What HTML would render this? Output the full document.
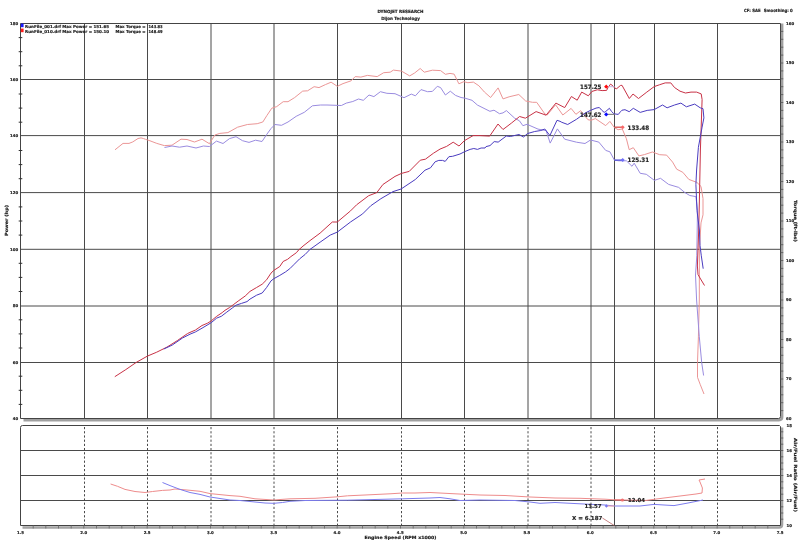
<!DOCTYPE html><html><head><meta charset="utf-8"><style>html,body{margin:0;padding:0;background:#fff;width:800px;height:543px;overflow:hidden}svg{display:block}</style></head><body>
<svg width="800" height="543" viewBox="0 0 800 543" style="font-family:'DejaVu Sans','Liberation Sans',sans-serif;font-weight:bold">
<rect width="800" height="543" fill="#fff"/>
<text x="400.5" y="13.1" font-size="4.3" text-anchor="middle" fill="#222" stroke="#222" stroke-width="0.18" textLength="46" lengthAdjust="spacingAndGlyphs" >DYNOJET RESEARCH</text>
<text x="400.5" y="20.1" font-size="4.3" text-anchor="middle" fill="#222" stroke="#222" stroke-width="0.18" textLength="38.5" lengthAdjust="spacingAndGlyphs" >Dijon Technology</text>
<text x="744" y="12.0" font-size="4.3" text-anchor="start" fill="#222" stroke="#222" stroke-width="0.18" textLength="16.6" lengthAdjust="spacingAndGlyphs" >CF: SAE</text>
<text x="763.7" y="12.0" font-size="4.3" text-anchor="start" fill="#222" stroke="#222" stroke-width="0.18" textLength="29.1" lengthAdjust="spacingAndGlyphs" >Smoothing: 0</text>
<line x1="20.5" y1="79.5" x2="780.5" y2="79.5" stroke="#4a4a4a" stroke-width="1"/><line x1="20.5" y1="135.6" x2="780.5" y2="135.6" stroke="#4a4a4a" stroke-width="1"/><line x1="20.5" y1="192.6" x2="780.5" y2="192.6" stroke="#4a4a4a" stroke-width="1"/><line x1="20.5" y1="249.3" x2="780.5" y2="249.3" stroke="#4a4a4a" stroke-width="1"/><line x1="20.5" y1="306.0" x2="780.5" y2="306.0" stroke="#4a4a4a" stroke-width="1"/><line x1="20.5" y1="362.5" x2="780.5" y2="362.5" stroke="#4a4a4a" stroke-width="1"/><line x1="84.5" y1="23.5" x2="84.5" y2="418.5" stroke="#4a4a4a" stroke-width="1"/><line x1="147.5" y1="23.5" x2="147.5" y2="418.5" stroke="#4a4a4a" stroke-width="1"/><line x1="211.0" y1="23.5" x2="211.0" y2="418.5" stroke="#4a4a4a" stroke-width="1"/><line x1="274.0" y1="23.5" x2="274.0" y2="418.5" stroke="#4a4a4a" stroke-width="1"/><line x1="337.5" y1="23.5" x2="337.5" y2="418.5" stroke="#4a4a4a" stroke-width="1"/><line x1="401.5" y1="23.5" x2="401.5" y2="418.5" stroke="#4a4a4a" stroke-width="1"/><line x1="464.5" y1="23.5" x2="464.5" y2="418.5" stroke="#4a4a4a" stroke-width="1"/><line x1="528.0" y1="23.5" x2="528.0" y2="418.5" stroke="#4a4a4a" stroke-width="1"/><line x1="591.0" y1="23.5" x2="591.0" y2="418.5" stroke="#4a4a4a" stroke-width="1"/><line x1="654.5" y1="23.5" x2="654.5" y2="418.5" stroke="#4a4a4a" stroke-width="1"/><line x1="717.5" y1="23.5" x2="717.5" y2="418.5" stroke="#4a4a4a" stroke-width="1"/><line x1="614.5" y1="23.5" x2="614.5" y2="418.5" stroke="#4a4a4a" stroke-width="1"/>
<path d="M782.1,23.5 L782.1,417.0 Q782.1,420.1 779.0,420.1 L23.5,420.1" fill="none" stroke="#a0a0a0" stroke-width="2.6"/>
<path d="M20.5,23.5 L780.5,23.5 L780.5,416.5 Q780.5,418.5 778.5,418.5 L20.5,418.5 L20.5,23.5" fill="none" stroke="#444" stroke-width="1"/>
<path d="M18.7,37.6h3.6M18.7,51.7h3.6M18.7,65.8h3.6M18.7,94.0h3.6M18.7,108.1h3.6M18.7,122.2h3.6M18.7,150.5h3.6M18.7,164.6h3.6M18.7,178.7h3.6M18.7,206.9h3.6M18.7,221.0h3.6M18.7,235.1h3.6M18.7,263.3h3.6M18.7,277.4h3.6M18.7,291.5h3.6M18.7,319.8h3.6M18.7,333.9h3.6M18.7,348.0h3.6M18.7,376.2h3.6M18.7,390.3h3.6M18.7,404.4h3.6" stroke="#333" stroke-width="1"/>
<path d="M780.5,31.4h2.8M780.5,39.3h2.8M780.5,47.2h2.8M780.5,55.1h2.8M780.5,63.0h2.8M780.5,70.9h2.8M780.5,78.8h2.8M780.5,86.7h2.8M780.5,94.6h2.8M780.5,102.5h2.8M780.5,110.4h2.8M780.5,118.3h2.8M780.5,126.2h2.8M780.5,134.1h2.8M780.5,142.0h2.8M780.5,149.9h2.8M780.5,157.8h2.8M780.5,165.7h2.8M780.5,173.6h2.8M780.5,181.5h2.8M780.5,189.4h2.8M780.5,197.3h2.8M780.5,205.2h2.8M780.5,213.1h2.8M780.5,221.0h2.8M780.5,228.9h2.8M780.5,236.8h2.8M780.5,244.7h2.8M780.5,252.6h2.8M780.5,260.5h2.8M780.5,268.4h2.8M780.5,276.3h2.8M780.5,284.2h2.8M780.5,292.1h2.8M780.5,300.0h2.8M780.5,307.9h2.8M780.5,315.8h2.8M780.5,323.7h2.8M780.5,331.6h2.8M780.5,339.5h2.8M780.5,347.4h2.8M780.5,355.3h2.8M780.5,363.2h2.8M780.5,371.1h2.8M780.5,379.0h2.8M780.5,386.9h2.8M780.5,394.8h2.8M780.5,402.7h2.8M780.5,410.6h2.8" stroke="#555" stroke-width="0.8"/>
<polyline points="115.0,149.8 123.0,143.4 129.0,143.4 132.8,141.9 138.0,138.5 141.0,137.9 143.3,138.5 145.5,139.3 150.0,140.8 156.8,143.4 164.3,145.6 172.0,145.2 181.0,139.2 187.0,139.5 194.5,142.0 202.0,139.2 209.4,143.7 214.9,135.0 219.8,133.4 227.9,132.6 237.6,127.2 247.4,124.5 257.2,123.7 262.8,122.0 266.9,115.5 271.8,108.2 276.7,106.6 283.2,101.7 288.0,101.7 294.6,97.6 302.7,91.1 307.6,90.8 314.1,86.7 319.0,87.6 325.4,84.6 331.1,82.2 337.3,86.3 343.0,83.6 351.1,80.8 355.2,76.6 360.9,77.1 367.4,75.4 377.2,76.6 383.7,72.7 390.2,72.2 393.4,70.1 401.5,71.1 409.7,75.9 414.6,73.0 420.2,68.5 424.3,72.2 432.4,70.2 440.6,70.6 445.4,74.3 450.0,73.4 454.1,74.1 458.9,83.8 463.8,81.7 467.9,82.7 473.4,82.1 478.9,85.8 484.4,92.0 490.6,97.5 498.1,87.9 503.0,98.9 509.1,96.8 518.8,94.5 525.7,101.0 532.5,102.3 536.7,102.3 544.9,114.0 547.2,115.0 555.6,104.8 562.8,115.0 571.1,108.4 575.9,114.3 580.7,110.7 587.9,119.7 591.0,120.3 595.4,118.6 605.7,125.6 609.9,121.4 614.4,127.6 618.1,129.7 622.3,129.0 626.4,138.7 629.2,149.7 633.3,147.7 638.9,155.9 644.4,154.6 652.4,152.0 659.7,154.7 666.6,155.1 672.6,162.1 676.7,169.2 682.8,172.3 688.8,179.4 696.9,182.4 701.0,186.4 703.0,198.6 703.0,214.8 701.0,222.9 699.4,249.4 699.3,300.0 698.4,336.8 697.5,362.6 697.5,377.3 700.3,384.7 704.0,394.0" fill="none" stroke="#eb9696" stroke-width="1.0" stroke-linejoin="round" />
<polyline points="164.5,147.5 172.0,146.0 179.5,147.2 187.0,146.0 196.0,148.0 203.4,146.0 209.4,146.5 216.5,141.1 223.0,143.5 229.5,138.6 236.0,136.7 242.5,140.7 249.0,142.4 255.5,140.2 262.0,141.5 266.9,134.2 271.0,128.5 275.0,124.5 281.5,125.3 288.0,122.0 296.2,116.3 304.3,112.3 312.4,105.8 320.6,105.0 327.0,105.0 341.4,105.5 346.3,103.1 352.8,101.5 358.5,99.0 363.3,100.3 369.0,95.0 373.9,96.6 380.4,91.7 386.9,93.3 395.0,93.7 404.0,97.7 411.3,94.1 415.4,95.8 421.0,89.6 427.6,91.7 432.4,91.4 437.3,86.3 440.6,87.6 445.4,95.0 450.3,91.2 455.5,95.4 461.0,97.5 465.1,98.2 472.0,100.3 477.5,105.1 489.9,111.3 494.0,110.2 499.5,113.7 503.0,112.9 506.4,110.6 514.6,118.1 519.5,120.9 522.9,125.7 527.0,124.3 538.0,129.1 546.1,130.6 550.2,143.1 557.4,128.9 564.7,139.2 576.5,142.2 585.0,143.5 590.5,140.0 598.8,142.1 605.7,150.4 609.9,151.8 614.4,160.1 618.8,160.8 626.4,160.8 632.0,166.3 634.2,163.2 640.2,173.3 646.3,174.3 654.4,180.4 660.5,178.3 668.6,184.4 678.7,187.4 684.8,192.5 689.8,195.5 695.9,196.6 697.5,210.0 696.8,255.8 695.5,275.0 696.6,300.0 699.3,336.8 701.7,362.6 703.6,375.5" fill="none" stroke="#9a8ce0" stroke-width="1.0" stroke-linejoin="round" />
<polyline points="114.8,376.7 125.8,369.6 136.1,362.5 147.4,356.1 156.7,352.2 167.0,347.1 177.3,340.6 187.6,333.5 190.0,332.4 195.5,330.0 202.0,325.5 207.5,323.2 211.2,320.9 216.7,316.3 222.2,312.6 225.0,310.3 229.6,307.5 233.2,304.8 238.8,300.6 245.2,296.0 250.0,291.4 256.6,287.5 262.2,284.2 266.6,279.8 271.0,273.1 273.8,270.4 279.8,266.5 283.1,261.5 287.6,259.3 290.9,256.6 296.4,252.7 298.6,250.0 303.0,246.1 310.0,240.6 320.1,233.1 332.3,222.0 337.3,222.0 350.5,210.9 356.6,204.8 368.7,195.7 376.8,192.6 382.9,184.5 395.0,176.4 401.5,173.4 409.2,171.4 420.3,160.2 425.4,159.2 433.5,153.2 440.0,149.1 446.6,146.4 453.2,142.2 459.0,146.0 464.5,140.6 473.1,135.6 479.8,135.6 489.7,136.1 498.0,124.0 503.0,129.5 511.3,123.2 519.6,116.5 525.4,118.2 536.1,111.6 546.1,115.2 555.9,103.1 564.7,107.6 571.4,96.5 577.2,100.2 581.7,92.1 588.3,95.8 592.0,91.4 597.3,89.8 602.1,90.6 606.6,90.4 608.2,87.3 610.6,84.1 613.1,86.1 614.7,88.1 616.7,88.7 620.4,85.5 622.0,85.3 629.3,98.5 633.0,94.0 638.5,98.5 646.8,92.1 654.2,86.6 659.7,84.7 665.2,82.9 670.8,82.9 674.5,87.5 680.0,91.2 685.5,93.0 691.0,92.1 696.6,92.1 701.2,93.9 702.1,99.5 700.4,150.0 699.4,200.0 698.7,230.0 698.0,249.4 697.4,266.0 698.0,274.5 700.6,279.0 704.5,285.5" fill="none" stroke="#c83246" stroke-width="1.0" stroke-linejoin="round" />
<polyline points="163.8,349.0 172.2,345.1 182.5,338.0 190.0,334.2 195.5,331.9 202.0,328.2 211.2,322.7 216.7,318.1 221.3,316.3 226.8,312.1 232.3,308.0 236.0,305.2 241.5,303.4 247.0,301.6 250.0,299.1 256.6,295.2 262.2,293.0 266.6,287.5 271.0,280.9 273.8,278.7 279.8,275.4 285.4,272.0 289.8,268.7 294.2,264.3 299.7,258.8 305.2,254.4 310.0,249.4 320.1,242.2 330.2,235.1 337.3,232.1 350.5,222.0 362.6,213.9 370.7,205.8 380.9,198.7 393.0,191.6 401.1,189.0 415.3,179.5 425.0,170.2 430.5,167.8 435.1,161.8 438.8,160.4 442.5,160.4 445.2,161.4 448.9,156.7 452.6,156.3 460.0,154.0 464.6,151.7 470.1,149.4 473.8,148.5 477.5,149.4 481.1,148.0 485.0,148.0 486.0,146.6 490.0,145.6 494.2,141.6 498.2,142.1 506.3,136.0 510.4,136.5 514.5,135.5 519.0,134.5 523.5,137.0 527.6,133.5 534.7,131.5 540.8,130.5 544.8,129.0 549.9,135.5 557.0,120.3 560.0,121.3 561.8,122.3 567.7,124.5 576.5,119.3 585.0,113.1 590.5,110.4 596.0,108.1 599.3,107.5 601.7,110.2 604.2,112.4 605.8,111.4 609.4,108.3 611.5,111.4 613.9,113.8 618.3,114.4 620.4,111.8 622.0,110.2 625.0,109.7 629.2,111.7 633.3,108.3 640.2,112.4 647.2,110.4 654.2,109.6 662.5,105.0 667.1,107.8 674.5,105.0 680.9,103.1 686.4,106.8 694.7,104.1 700.2,107.8 703.0,108.7 703.9,117.9 702.1,127.1 698.4,147.3 696.6,170.0 695.9,184.4 697.0,210.7 699.4,230.0 700.0,245.5 701.3,255.8 703.2,268.7" fill="none" stroke="#4a3cc0" stroke-width="1.0" stroke-linejoin="round" />
<rect x="20.8" y="23.6" width="2.8" height="3.6" fill="#1a1aff"/>
<rect x="20.8" y="28.6" width="2.8" height="3.6" fill="#ff1a1a"/>
<text x="25.1" y="28.2" font-size="4.1" text-anchor="start" fill="#222" stroke="#222" stroke-width="0.18" textLength="84" lengthAdjust="spacingAndGlyphs" >RunFile_001.drf Max Power = 151.65</text>
<text x="115.6" y="28.2" font-size="4.1" text-anchor="start" fill="#222" stroke="#222" stroke-width="0.18" textLength="30" lengthAdjust="spacingAndGlyphs" >Max Torque =</text>
<text x="148.6" y="28.2" font-size="4.1" text-anchor="start" fill="#222" stroke="#222" stroke-width="0.18" textLength="14" lengthAdjust="spacingAndGlyphs" >143.83</text>
<text x="25.1" y="33.2" font-size="4.1" text-anchor="start" fill="#222" stroke="#222" stroke-width="0.18" textLength="84" lengthAdjust="spacingAndGlyphs" >RunFile_010.drf Max Power = 150.10</text>
<text x="115.6" y="33.2" font-size="4.1" text-anchor="start" fill="#222" stroke="#222" stroke-width="0.18" textLength="30" lengthAdjust="spacingAndGlyphs" >Max Torque =</text>
<text x="148.6" y="33.2" font-size="4.1" text-anchor="start" fill="#222" stroke="#222" stroke-width="0.18" textLength="14" lengthAdjust="spacingAndGlyphs" >148.49</text>
<line x1="606.2" y1="86.7" x2="614.5" y2="86.7" stroke="#c8b4e0" stroke-width="1"/>
<line x1="606.2" y1="114.4" x2="614.5" y2="114.4" stroke="#8a8a8a" stroke-width="1.2"/>
<line x1="614.5" y1="127.2" x2="622.5" y2="127.2" stroke="#d85050" stroke-width="1.3"/>
<line x1="614.5" y1="160.1" x2="622.5" y2="160.1" stroke="#5050d8" stroke-width="1.3"/>
<path d="M606.2,84.6 l2.1,2.1 l-2.1,2.1 l-2.1,-2.1z" fill="#ff0a0a"/>
<path d="M606.2,112.3 l2.1,2.1 l-2.1,2.1 l-2.1,-2.1z" fill="#0a0aff"/>
<path d="M622.7,125.2 l2,2 l-2,2 l-2,-2z" fill="#f86868"/>
<path d="M622.7,158.1 l2,2 l-2,2 l-2,-2z" fill="#7070f8"/>
<text x="601.5" y="88.9" font-size="6.0" text-anchor="end" fill="#222" stroke="#222" stroke-width="0.18" textLength="21.5" lengthAdjust="spacingAndGlyphs" >157.25</text>
<text x="601.5" y="116.6" font-size="6.0" text-anchor="end" fill="#222" stroke="#222" stroke-width="0.18" textLength="21.5" lengthAdjust="spacingAndGlyphs" >147.62</text>
<text x="627.5" y="129.5" font-size="6.0" text-anchor="start" fill="#222" stroke="#222" stroke-width="0.18" textLength="21.7" lengthAdjust="spacingAndGlyphs" >133.48</text>
<text x="627.5" y="162.3" font-size="6.0" text-anchor="start" fill="#222" stroke="#222" stroke-width="0.18" textLength="21.7" lengthAdjust="spacingAndGlyphs" >125.31</text>
<text x="18.2" y="24.9" font-size="3.9" text-anchor="end" fill="#222" stroke="#222" stroke-width="0.18" >180</text>
<text x="18.2" y="80.9" font-size="3.9" text-anchor="end" fill="#222" stroke="#222" stroke-width="0.18" >160</text>
<text x="18.2" y="137.0" font-size="3.9" text-anchor="end" fill="#222" stroke="#222" stroke-width="0.18" >140</text>
<text x="18.2" y="194.0" font-size="3.9" text-anchor="end" fill="#222" stroke="#222" stroke-width="0.18" >120</text>
<text x="18.2" y="250.70000000000002" font-size="3.9" text-anchor="end" fill="#222" stroke="#222" stroke-width="0.18" >100</text>
<text x="18.2" y="307.4" font-size="3.9" text-anchor="end" fill="#222" stroke="#222" stroke-width="0.18" >80</text>
<text x="18.2" y="363.9" font-size="3.9" text-anchor="end" fill="#222" stroke="#222" stroke-width="0.18" >60</text>
<text x="18.2" y="419.9" font-size="3.9" text-anchor="end" fill="#222" stroke="#222" stroke-width="0.18" >40</text>
<text x="786" y="24.9" font-size="3.9" text-anchor="start" fill="#222" stroke="#222" stroke-width="0.18" >160</text>
<text x="786" y="64.4" font-size="3.9" text-anchor="start" fill="#222" stroke="#222" stroke-width="0.18" >150</text>
<text x="786" y="103.9" font-size="3.9" text-anchor="start" fill="#222" stroke="#222" stroke-width="0.18" >140</text>
<text x="786" y="143.4" font-size="3.9" text-anchor="start" fill="#222" stroke="#222" stroke-width="0.18" >130</text>
<text x="786" y="182.9" font-size="3.9" text-anchor="start" fill="#222" stroke="#222" stroke-width="0.18" >120</text>
<text x="786" y="222.4" font-size="3.9" text-anchor="start" fill="#222" stroke="#222" stroke-width="0.18" >110</text>
<text x="786" y="261.9" font-size="3.9" text-anchor="start" fill="#222" stroke="#222" stroke-width="0.18" >100</text>
<text x="786" y="301.4" font-size="3.9" text-anchor="start" fill="#222" stroke="#222" stroke-width="0.18" >90</text>
<text x="786" y="340.9" font-size="3.9" text-anchor="start" fill="#222" stroke="#222" stroke-width="0.18" >80</text>
<text x="786" y="380.4" font-size="3.9" text-anchor="start" fill="#222" stroke="#222" stroke-width="0.18" >70</text>
<text x="786" y="419.9" font-size="3.9" text-anchor="start" fill="#222" stroke="#222" stroke-width="0.18" >60</text>
<text x="0" y="0" font-size="4.3" text-anchor="middle" fill="#222" stroke="#222" stroke-width="0.18" transform="translate(7.6,220.5) rotate(-90)" textLength="31" lengthAdjust="spacingAndGlyphs">Power (hp)</text>
<text x="0" y="0" font-size="4.3" text-anchor="middle" fill="#222" stroke="#222" stroke-width="0.18" transform="translate(794.3,221) rotate(90)" textLength="42" lengthAdjust="spacingAndGlyphs">Torque (ft-lbs)</text>
<line x1="20.5" y1="450.5" x2="780.5" y2="450.5" stroke="#4a4a4a" stroke-width="1"/><line x1="20.5" y1="475.5" x2="780.5" y2="475.5" stroke="#4a4a4a" stroke-width="1"/><line x1="20.5" y1="500.5" x2="780.5" y2="500.5" stroke="#4a4a4a" stroke-width="1"/><line x1="84.5" y1="427.0" x2="84.5" y2="525.5" stroke="#4a4a4a" stroke-width="1" stroke-dasharray="2.2,2"/><line x1="147.5" y1="427.0" x2="147.5" y2="525.5" stroke="#4a4a4a" stroke-width="1" stroke-dasharray="2.2,2"/><line x1="211.0" y1="427.0" x2="211.0" y2="525.5" stroke="#4a4a4a" stroke-width="1" stroke-dasharray="2.2,2"/><line x1="274.0" y1="427.0" x2="274.0" y2="525.5" stroke="#4a4a4a" stroke-width="1" stroke-dasharray="2.2,2"/><line x1="337.5" y1="427.0" x2="337.5" y2="525.5" stroke="#4a4a4a" stroke-width="1" stroke-dasharray="2.2,2"/><line x1="401.5" y1="427.0" x2="401.5" y2="525.5" stroke="#4a4a4a" stroke-width="1" stroke-dasharray="2.2,2"/><line x1="464.5" y1="427.0" x2="464.5" y2="525.5" stroke="#4a4a4a" stroke-width="1" stroke-dasharray="2.2,2"/><line x1="528.0" y1="427.0" x2="528.0" y2="525.5" stroke="#4a4a4a" stroke-width="1" stroke-dasharray="2.2,2"/><line x1="591.0" y1="427.0" x2="591.0" y2="525.5" stroke="#4a4a4a" stroke-width="1" stroke-dasharray="2.2,2"/><line x1="654.5" y1="427.0" x2="654.5" y2="525.5" stroke="#4a4a4a" stroke-width="1" stroke-dasharray="2.2,2"/><line x1="717.5" y1="427.0" x2="717.5" y2="525.5" stroke="#4a4a4a" stroke-width="1" stroke-dasharray="2.2,2"/><line x1="614.5" y1="425.5" x2="614.5" y2="525.5" stroke="#4a4a4a" stroke-width="1"/>
<path d="M782.0,427.5 L782.0,524.5 Q782.0,527.5 779.0,527.5 L22.5,527.5" fill="none" stroke="#a4a4a4" stroke-width="2.6"/>
<path d="M20.5,525.5 L20.5,427.5 Q20.5,425.5 22.5,425.5 L779.5,425.5 L780.5,426.5 L780.5,525.5 L20.5,525.5" fill="none" stroke="#444" stroke-width="1"/>
<path d="M33.2,525.5v3M45.8,525.5v3M58.5,525.5v3M71.2,525.5v3M83.8,525.5v3M96.5,525.5v3M109.2,525.5v3M121.8,525.5v3M134.5,525.5v3M147.2,525.5v3M159.8,525.5v3M172.5,525.5v3M185.2,525.5v3M197.8,525.5v3M210.5,525.5v3M223.2,525.5v3M235.8,525.5v3M248.5,525.5v3M261.2,525.5v3M273.8,525.5v3M286.5,525.5v3M299.2,525.5v3M311.8,525.5v3M324.5,525.5v3M337.2,525.5v3M349.8,525.5v3M362.5,525.5v3M375.2,525.5v3M387.8,525.5v3M400.5,525.5v3M413.2,525.5v3M425.8,525.5v3M438.5,525.5v3M451.2,525.5v3M463.8,525.5v3M476.5,525.5v3M489.2,525.5v3M501.8,525.5v3M514.5,525.5v3M527.2,525.5v3M539.8,525.5v3M552.5,525.5v3M565.2,525.5v3M577.8,525.5v3M590.5,525.5v3M603.2,525.5v3M615.8,525.5v3M628.5,525.5v3M641.2,525.5v3M653.8,525.5v3M666.5,525.5v3M679.2,525.5v3M691.8,525.5v3M704.5,525.5v3M717.2,525.5v3M729.8,525.5v3M742.5,525.5v3M755.2,525.5v3M767.8,525.5v3" stroke="#666" stroke-width="0.8"/>
<path d="M780.5,431.8h2.8M780.5,438.0h2.8M780.5,444.2h2.8M780.5,450.5h2.8M780.5,456.8h2.8M780.5,463.0h2.8M780.5,469.2h2.8M780.5,475.5h2.8M780.5,481.8h2.8M780.5,488.0h2.8M780.5,494.2h2.8M780.5,500.5h2.8M780.5,506.8h2.8M780.5,513.0h2.8M780.5,519.2h2.8" stroke="#555" stroke-width="0.8"/>
<polyline points="110.6,484.0 117.5,486.3 125.0,489.4 135.0,491.5 145.0,492.5 152.5,491.5 162.5,490.4 170.0,490.0 175.0,489.0 180.0,489.4 190.0,490.3 200.0,491.3 210.0,493.6 230.0,495.6 240.0,496.3 255.0,498.8 273.8,500.0 290.0,498.8 315.0,498.3 337.5,496.8 347.5,495.8 365.0,495.0 390.0,493.8 402.5,493.0 415.0,493.0 430.0,492.5 455.0,493.8 480.0,495.0 505.0,495.5 530.0,497.0 555.0,498.0 580.0,498.3 605.0,499.2 614.4,499.8 646.0,500.4 664.0,498.0 680.0,496.0 696.0,494.0 702.0,493.0 702.4,488.0 700.0,482.0 699.0,480.0 705.0,479.0" fill="none" stroke="#ee8c8c" stroke-width="1.0" stroke-linejoin="round" />
<polyline points="162.5,482.5 170.0,485.6 180.0,489.4 190.0,492.5 200.0,494.4 210.0,497.0 230.0,500.0 240.0,500.5 255.0,502.0 265.0,503.0 273.8,503.3 282.5,502.5 290.0,501.3 305.0,500.5 347.5,500.2 402.5,498.8 430.0,498.0 440.0,497.5 450.0,498.8 460.0,500.5 480.0,500.0 515.0,500.5 530.0,502.0 540.0,503.3 555.0,502.5 580.0,503.8 605.0,505.0 614.4,506.0 640.0,506.0 654.0,504.4 674.0,505.6 688.0,503.0 698.0,501.0 703.0,500.0" fill="none" stroke="#7c7cee" stroke-width="1.0" stroke-linejoin="round" />
<line x1="614.5" y1="500" x2="622.4" y2="500" stroke="#ee7070" stroke-width="1"/>
<line x1="606.4" y1="506" x2="614.5" y2="506" stroke="#f0a0a0" stroke-width="1"/>
<circle cx="622.4" cy="500" r="1.6" fill="#f07070"/>
<path d="M606.4,504.3 l1.7,1.7 l-1.7,1.7 l-1.7,-1.7z" fill="#7878f0"/>
<text x="628" y="502" font-size="5.5" text-anchor="start" fill="#222" stroke="#222" stroke-width="0.18" textLength="17" lengthAdjust="spacingAndGlyphs" >12.04</text>
<text x="601.6" y="508" font-size="5.5" text-anchor="end" fill="#222" stroke="#222" stroke-width="0.18" textLength="17.2" lengthAdjust="spacingAndGlyphs" >13.57</text>
<text x="572" y="520" font-size="5.5" text-anchor="start" fill="#222" stroke="#222" stroke-width="0.18" textLength="30.4" lengthAdjust="spacingAndGlyphs" >X = 6.187</text>
<line x1="602.4" y1="518" x2="614.4" y2="525.6" stroke="#b05050" stroke-width="0.7"/>
<text x="786.5" y="426.9" font-size="3.9" text-anchor="start" fill="#222" stroke="#222" stroke-width="0.18" >18</text>
<text x="786.5" y="451.9" font-size="3.9" text-anchor="start" fill="#222" stroke="#222" stroke-width="0.18" >16</text>
<text x="786.5" y="476.9" font-size="3.9" text-anchor="start" fill="#222" stroke="#222" stroke-width="0.18" >14</text>
<text x="786.5" y="501.9" font-size="3.9" text-anchor="start" fill="#222" stroke="#222" stroke-width="0.18" >12</text>
<text x="786.5" y="526.9" font-size="3.9" text-anchor="start" fill="#222" stroke="#222" stroke-width="0.18" >10</text>
<text x="0" y="0" font-size="4.3" text-anchor="middle" fill="#222" stroke="#222" stroke-width="0.18" transform="translate(794.3,475) rotate(90)" textLength="74" lengthAdjust="spacingAndGlyphs">Air/Fuel Ratio (Air/Fuel)</text>
<text x="20.5" y="533.5" font-size="3.9" text-anchor="middle" fill="#222" stroke="#222" stroke-width="0.18" >1.5</text>
<text x="83.8" y="533.5" font-size="3.9" text-anchor="middle" fill="#222" stroke="#222" stroke-width="0.18" >2.0</text>
<text x="147.1" y="533.5" font-size="3.9" text-anchor="middle" fill="#222" stroke="#222" stroke-width="0.18" >2.5</text>
<text x="210.4" y="533.5" font-size="3.9" text-anchor="middle" fill="#222" stroke="#222" stroke-width="0.18" >3.0</text>
<text x="273.7" y="533.5" font-size="3.9" text-anchor="middle" fill="#222" stroke="#222" stroke-width="0.18" >3.5</text>
<text x="337.0" y="533.5" font-size="3.9" text-anchor="middle" fill="#222" stroke="#222" stroke-width="0.18" >4.0</text>
<text x="400.3" y="533.5" font-size="3.9" text-anchor="middle" fill="#222" stroke="#222" stroke-width="0.18" >4.5</text>
<text x="463.6" y="533.5" font-size="3.9" text-anchor="middle" fill="#222" stroke="#222" stroke-width="0.18" >5.0</text>
<text x="526.9" y="533.5" font-size="3.9" text-anchor="middle" fill="#222" stroke="#222" stroke-width="0.18" >5.5</text>
<text x="590.2" y="533.5" font-size="3.9" text-anchor="middle" fill="#222" stroke="#222" stroke-width="0.18" >6.0</text>
<text x="653.5" y="533.5" font-size="3.9" text-anchor="middle" fill="#222" stroke="#222" stroke-width="0.18" >6.5</text>
<text x="716.8" y="533.5" font-size="3.9" text-anchor="middle" fill="#222" stroke="#222" stroke-width="0.18" >7.0</text>
<text x="780.1" y="533.5" font-size="3.9" text-anchor="middle" fill="#222" stroke="#222" stroke-width="0.18" >7.5</text>
<text x="400.5" y="538.8" font-size="4.3" text-anchor="middle" fill="#222" stroke="#222" stroke-width="0.18" textLength="72" lengthAdjust="spacingAndGlyphs" >Engine Speed (RPM x1000)</text>
</svg></body></html>
